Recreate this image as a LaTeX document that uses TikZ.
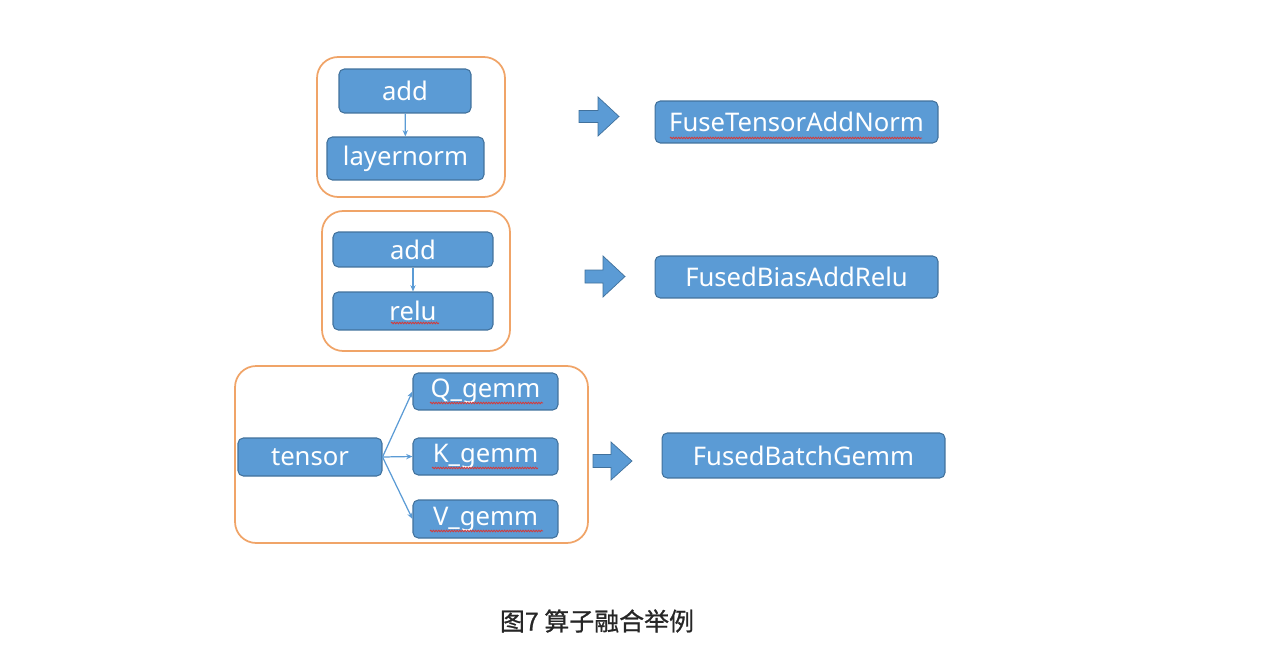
\documentclass[tikz,border=0pt]{standalone}
\usepackage{fontspec}
\setmainfont{Noto Sans}
\newfontfamily\cjk{Noto Sans CJK SC}[FakeBold=0.8]
\usetikzlibrary{arrows.meta,decorations.pathmorphing}
\definecolor{boxblue}{HTML}{5B9BD5}
\definecolor{boxedge}{HTML}{41719C}
\definecolor{grporange}{HTML}{F0A468}
\definecolor{squig}{HTML}{D23C3C}
\tikzset{
  op/.style={draw=boxedge, line width=0.6pt, fill=boxblue, rounded corners=3pt, text=white,
     inner sep=0pt, font=\fontsize{14.6}{16}\selectfont},
  grp/.style={draw=grporange, line width=1pt, rounded corners=12pt, inner sep=0pt},
  link/.style={draw=boxblue, line width=0.7pt, -{Stealth[length=3.6pt,width=3pt]}},
  bigarrow/.style={fill=boxblue, draw=boxedge, line width=0.4pt},
  spell/.style={draw=squig, line width=0.5pt, decorate, decoration={snake, segment length=1.5pt, amplitude=0.45pt}},
}
\begin{document}
\begin{tikzpicture}[x=0.02cm, y=-0.02cm]
\useasboundingbox (0,0) rectangle (1288,652);
% group 1
\node[grp, minimum width=3.76cm, minimum height=2.8cm] (g1) at (411,127) {};
\node[op, minimum width=2.64cm, minimum height=0.88cm] (add1) at (405,91) {add};
\node[op, minimum width=3.14cm, minimum height=0.86cm] (ln) at (405.5,158.5) {layernorm};
\draw[link] (add1) -- (ln);
\filldraw[bigarrow] (579,110.5) -- (598,110.5) -- (598,97) -- (619,116.5) -- (598,136) -- (598,122.5) -- (579,122.5) -- cycle;
\node[op, minimum width=5.66cm, minimum height=0.84cm] (f1) at (796.5,122) {FuseTensorAddNorm};
\draw[spell] (670,138) -- (922,138);
% group 2
\node[grp, minimum width=3.76cm, minimum height=2.8cm] (g2) at (416,281) {};
\node[op, minimum width=3.2cm, minimum height=0.7cm] (add2) at (413,249.5) {add};
\node[op, minimum width=3.2cm, minimum height=0.76cm] (relu) at (413,311) {relu};
\draw[link] (add2) -- (relu);
\draw[spell] (391,323) -- (439,323);
\filldraw[bigarrow] (585,270) -- (603,270) -- (603,256) -- (625,276.5) -- (603,297) -- (603,283) -- (585,283) -- cycle;
\node[op, minimum width=5.66cm, minimum height=0.84cm] (f2) at (796.5,277) {FusedBiasAddRelu};
% group 3
\node[grp, minimum width=7.06cm, minimum height=3.54cm] (g3) at (411.5,454.5) {};
\node[op, minimum width=2.88cm, minimum height=0.76cm] (tensor) at (310,457) {tensor};
\node[op, minimum width=2.9cm, minimum height=0.74cm] (q) at (485.5,391.5) {Q\_gemm};
\node[op, minimum width=2.9cm, minimum height=0.74cm] (k) at (485.5,456.5) {K\_gemm};
\node[op, minimum width=2.9cm, minimum height=0.76cm] (v) at (485.5,519) {V\_gemm};
\draw[link] (tensor.east) -- (q.west);
\draw[link] (tensor.east) -- (k.west);
\draw[link] (tensor.east) -- (v.west);
\draw[spell] (430,403) -- (543,403);
\draw[spell] (432,468) -- (538,468);
\draw[spell] (430,531) -- (543,531);
\filldraw[bigarrow] (593,454.5) -- (611,454.5) -- (611,442) -- (632,461) -- (611,480) -- (611,467.5) -- (593,467.5) -- cycle;
\node[op, minimum width=5.66cm, minimum height=0.9cm] (f3) at (803.5,455.5) {FusedBatchGemm};
% caption
\node[font=\cjk\fontsize{14.2}{16}\selectfont, text=black!85] (cap) at (597,621) {图7 算子融合举例};
\end{tikzpicture}
\end{document}
